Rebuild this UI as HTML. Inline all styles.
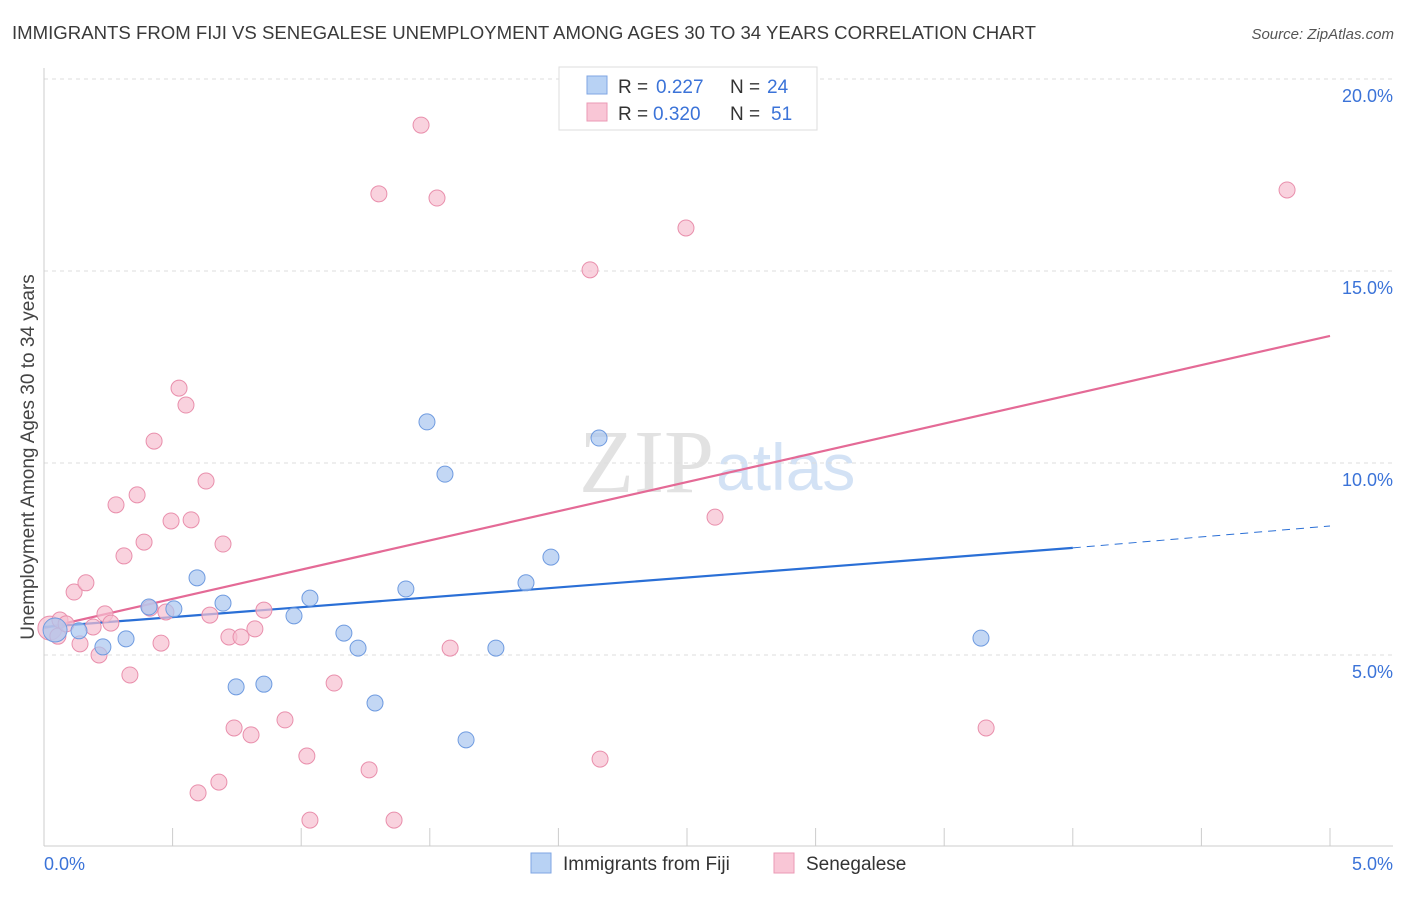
<!DOCTYPE html>
<html><head><meta charset="utf-8"><style>
body{margin:0;background:#fff;font-family:"Liberation Sans",sans-serif;}
</style></head><body>
<svg id="chart" width="1406" height="892" xmlns="http://www.w3.org/2000/svg" font-family="Liberation Sans, sans-serif">
<text x="12" y="39" font-size="18" fill="#3a3a3a" textLength="1024" lengthAdjust="spacingAndGlyphs">IMMIGRANTS FROM FIJI VS SENEGALESE UNEMPLOYMENT AMONG AGES 30 TO 34 YEARS CORRELATION CHART</text>
<text x="1394" y="39" font-size="15" fill="#555" text-anchor="end" font-style="italic">Source: ZipAtlas.com</text>
<text x="714" y="492" font-size="90" text-anchor="end" fill="#e2e2e2" font-family="Liberation Serif, serif">ZIP</text>
<text x="716" y="490" font-size="66" fill="#d3e2f5">atlas</text>
<g id="grid"></g>
<g id="axes"></g>
<g id="lines"></g>
<g id="pts"></g>
<text transform="translate(34,457) rotate(-90)" font-size="19" fill="#444" text-anchor="middle">Unemployment Among Ages 30 to 34 years</text>
<g>
<rect x="559" y="67" width="258" height="63" fill="#fff" stroke="#ddd"/>
<rect x="587" y="76" width="20" height="18" fill="#b8d2f4" stroke="#7fa6e3"/>
<rect x="587" y="103" width="20" height="18" fill="#f9c6d6" stroke="#eb9ab5"/>
<text x="618" y="93" font-size="19" fill="#333">R =</text>
<text x="656" y="93" font-size="19" fill="#3b73d8">0.227</text>
<text x="730" y="93" font-size="19" fill="#333">N =</text>
<text x="767" y="93" font-size="19" fill="#3b73d8">24</text>
<text x="618" y="120" font-size="19" fill="#333">R =</text>
<text x="653" y="120" font-size="19" fill="#3b73d8">0.320</text>
<text x="730" y="120" font-size="19" fill="#333">N =</text>
<text x="771" y="120" font-size="19" fill="#3b73d8">51</text>
</g>
<g>
<rect x="531" y="853" width="20" height="20" fill="#b8d2f4" stroke="#7fa6e3"/>
<text x="563" y="870" font-size="19" fill="#333">Immigrants from Fiji</text>
<rect x="774" y="853" width="20" height="20" fill="#f9c6d6" stroke="#eb9ab5"/>
<text x="806" y="870" font-size="19" fill="#333">Senegalese</text>
</g>
</svg>
<script>
const yTicks=[5,10,15,20];
const yTickLabels=["5.0%","10.0%","15.0%","20.0%"];
const fijiX=[0.043,0.136,0.229,0.319,0.408,0.505,0.595,0.696,0.747,0.855,0.972,1.034,1.166,1.221,1.287,1.407,1.489,1.559,1.641,1.757,1.874,1.971,2.158,3.643];
const fijiY=[5.65,5.63,5.21,5.42,6.25,6.20,7.01,6.35,4.17,4.24,6.02,6.48,5.57,5.18,3.75,6.72,11.07,9.71,2.79,5.18,6.88,7.55,10.65,5.44];
const senX=[0.023,0.062,0.054,0.086,0.117,0.140,0.163,0.191,0.214,0.237,0.260,0.280,0.311,0.334,0.362,0.389,0.412,0.428,0.455,0.474,0.494,0.525,0.552,0.572,0.599,0.630,0.645,0.680,0.696,0.719,0.739,0.766,0.805,0.820,0.855,0.937,1.022,1.034,1.128,1.264,1.302,1.361,1.466,1.528,1.579,2.123,2.162,2.496,2.609,3.663,4.833];
const senY=[5.70,5.91,5.49,5.81,6.64,5.29,6.88,5.73,5.00,6.07,5.83,8.91,7.58,4.48,9.17,7.94,6.22,10.57,5.31,6.12,8.49,11.95,11.51,8.52,1.41,9.53,6.04,1.69,7.89,5.47,3.10,5.47,2.92,5.68,6.17,3.31,2.37,0.70,4.27,2.01,17.01,0.70,18.80,16.90,5.18,15.03,2.29,16.12,8.59,3.10,17.11];
const fijiTrend=[5.73,7.79,8.36]; // at x=0, 4, 5
const senTrend=[5.70,13.31]; // at x=0, 5
const X=v=>44+v*257.2, Y=v=>847-v*38.4;
const NS="http://www.w3.org/2000/svg";
function mk(p,tag,a){const e=document.createElementNS(NS,tag);for(const k in a)e.setAttribute(k,a[k]);document.getElementById(p).appendChild(e);return e;}
yTicks.forEach((t,i)=>{
 const l=mk('grid','line',{x1:44,x2:1393,y1:Y(t),y2:Y(t),stroke:'#ddd','stroke-dasharray':'4,4'});
 
 
 const tx=mk('grid','text',{x:1393,y:Y(t)+23,'font-size':18,fill:'#3b73d8','text-anchor':'end'});
 tx.textContent=yTickLabels[i];
 
 
});
const ax=mk('axes','line',{x1:44,x2:44,y1:68,y2:846,stroke:'#ccc'});


const bx=mk('axes','line',{x1:44,x2:1393,y1:846,y2:846,stroke:'#ccc'});


for(let i=1;i<=10;i++){const t=mk('axes','line',{x1:X(i*0.5),x2:X(i*0.5),y1:828,y2:846,stroke:'#ccc'});
 
 }
[["0.0%",44,'start'],["5.0%",1393,'end']].forEach(d=>{const t=mk('axes','text',{x:d[1],y:870,'font-size':18,fill:'#3b73d8','text-anchor':d[2]});t.textContent=d[0];
 
 });
function pts(xs,ys,fill,stroke,name){xs.forEach((x,i)=>{const r=(i===0)?12:8;const c=mk('pts','circle',{cx:X(x),cy:Y(ys[i]),r:r,fill:fill,'fill-opacity':0.7,stroke:stroke,'stroke-width':1});
 
 });}
pts(senX,senY,'#f7bfd0','#e98fac','senegalese-point');
pts(fijiX,fijiY,'#a9c6ef','#6f9be0','fiji-point');
const l1=mk('lines','line',{x1:X(0),y1:Y(senTrend[0]),x2:X(5),y2:Y(senTrend[1]),stroke:'#e46a96','stroke-width':2.2});


const l2=mk('lines','line',{x1:X(0),y1:Y(fijiTrend[0]),x2:X(4),y2:Y(fijiTrend[1]),stroke:'#2a6fd6','stroke-width':2.2});


const l3=mk('lines','line',{x1:X(4),y1:Y(fijiTrend[1]),x2:X(5),y2:Y(fijiTrend[2]),stroke:'#2a6fd6','stroke-width':1,'stroke-dasharray':'8,6'});


</script>
</body></html>
